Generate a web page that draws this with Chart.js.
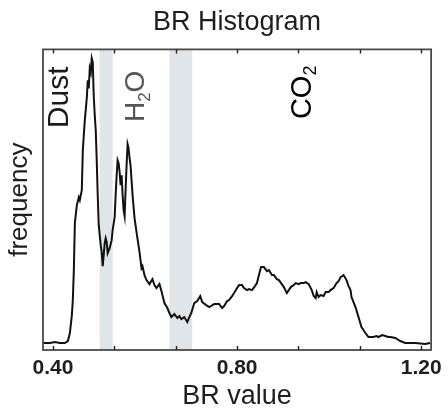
<!DOCTYPE html>
<html>
<head>
<meta charset="utf-8">
<script src="https://cdn.jsdelivr.net/npm/chart.js@4/dist/chart.umd.min.js"></script>
<style>
  html, body { margin: 0; padding: 0; background: #ffffff; }
  #wrap { width: 448px; height: 410px; }
</style>
</head>
<body>
<div id="wrap"><canvas id="c" width="448" height="410"></canvas></div>
<script>
// ---- Data ----
const brValues = [
  0.3784, 0.3935, 0.4043, 0.4151, 0.4259, 0.4324, 0.4368, 0.4411, 0.4432, 0.4454,
  0.4476, 0.4519, 0.4562, 0.4584, 0.4627, 0.4649, 0.4692, 0.4735, 0.4757, 0.4778,
  0.4800, 0.4822, 0.4843, 0.4865, 0.4886, 0.4908, 0.4930, 0.4951, 0.4973, 0.4995,
  0.5016, 0.5038, 0.5059, 0.5081, 0.5103, 0.5124, 0.5146, 0.5168, 0.5189, 0.5232,
  0.5276, 0.5297, 0.5341, 0.5362, 0.5384, 0.5405, 0.5427, 0.5449, 0.5470, 0.5492,
  0.5514, 0.5535, 0.5557, 0.5578, 0.5600, 0.5622, 0.5643, 0.5665, 0.5686, 0.5730,
  0.5773, 0.5816, 0.5881, 0.5924, 0.5946, 0.5989, 0.6032, 0.6097, 0.6162, 0.6205,
  0.6249, 0.6314, 0.6357, 0.6422, 0.6486, 0.6530, 0.6573, 0.6638, 0.6703, 0.6746,
  0.6789, 0.6854, 0.6919, 0.6962, 0.7005, 0.7070, 0.7135, 0.7200, 0.7243, 0.7330,
  0.7395, 0.7503, 0.7611, 0.7676, 0.7719, 0.7784, 0.7827, 0.7892, 0.7935, 0.8000,
  0.8043, 0.8108, 0.8151, 0.8216, 0.8259, 0.8324, 0.8389, 0.8432, 0.8476, 0.8519,
  0.8584, 0.8649, 0.8692, 0.8757, 0.8800, 0.8865, 0.8908, 0.8973, 0.9016, 0.9081,
  0.9124, 0.9168, 0.9232, 0.9276, 0.9341, 0.9384, 0.9449, 0.9492, 0.9557, 0.9622,
  0.9665, 0.9708, 0.9730, 0.9773, 0.9816, 0.9881, 0.9924, 0.9989, 1.0032, 1.0097,
  1.0162, 1.0205, 1.0249, 1.0314, 1.0378, 1.0422, 1.0465, 1.0486, 1.0530, 1.0573,
  1.0638, 1.0703, 1.0746, 1.0789, 1.0854, 1.0962, 1.1027, 1.1070, 1.1157, 1.1222,
  1.1286, 1.1330, 1.1438, 1.1546, 1.1654, 1.1870, 1.2086, 1.2195
];
const frequency = [
  7, 7, 8, 7, 7, 9, 17, 35, 50, 80,
  127, 145, 153, 150, 160, 200, 230, 252, 270, 262,
  282, 278, 292, 288, 255, 235, 220, 190, 155, 125,
  115, 105, 98, 84, 95, 107, 112, 108, 97, 102,
  110, 120, 133, 155, 175, 190, 187, 178, 165, 175,
  155, 140, 134, 160, 185, 206, 202, 192, 185, 155,
  132, 118, 98, 82, 84, 75, 70, 66, 71, 65,
  62, 66, 59, 47, 42, 37, 33, 36, 32, 34,
  31, 33, 28, 33, 37, 47, 49, 54, 48, 45,
  43, 46, 46, 42, 44, 49, 50, 54, 57, 62,
  65, 65, 62, 60, 61, 60, 64, 67, 75, 83,
  83, 79, 80, 75, 75, 71, 70, 66, 63, 57,
  60, 63, 65, 67, 66, 67, 67, 68, 66, 60,
  54, 52, 58, 53, 55, 54, 58, 58, 60, 62,
  67, 69, 73, 75, 70, 64, 60, 53, 48, 43,
  33, 23, 20, 17, 13, 13, 14, 13, 15, 14,
  13, 13, 12, 9, 7, 7, 6, 7
];
const tickValues = [0.4, 0.5333, 0.6667, 0.8, 0.9333, 1.0667, 1.2];
const labeledTicks = [0.4, 0.8, 1.2];
const bandStarts = [0.5016, 0.6530];
const bandEnds   = [0.5297, 0.7027];
const annotationText = ['Dust', 'H|2|O', 'CO|2|'];
const annotationBR   = [0.4151, 0.5816, 0.9427];
const annotationFreq = [253, 254, 258];
const annotationSize = [30, 28, 29];
const annotationColor = ['#1a1a1a', '#555555', '#000000'];

const FONT = "'Liberation Sans', Arial, sans-serif";

const decorPlugin = {
  id: 'decor',
  afterLayout(chart) {
    if (chart.titleBlock) {
      chart.titleBlock.left = chart.chartArea.left;
      chart.titleBlock.right = chart.chartArea.right;
    }
  },
  beforeDatasetsDraw(chart) {
    const { ctx, chartArea: a, scales: { x } } = chart;
    ctx.save();
    ctx.fillStyle = '#dfe5e8';
    for (let i = 0; i < bandStarts.length; i++) {
      const x0 = x.getPixelForValue(bandStarts[i]);
      const x1 = x.getPixelForValue(bandEnds[i]);
      ctx.fillRect(x0, a.top, x1 - x0, a.bottom - a.top);
    }
    ctx.restore();
  },
  afterDatasetsDraw(chart) {
    const { ctx, chartArea: a, scales: { x, y } } = chart;
    ctx.save();
    ctx.strokeStyle = '#4a4a4a';
    ctx.lineWidth = 1.8;
    ctx.strokeRect(a.left, a.top, a.right - a.left, a.bottom - a.top);
    ctx.lineWidth = 1.4;
    ctx.strokeStyle = '#222';
    tickValues.forEach(v => {
      const px = Math.round(x.getPixelForValue(v)) + 0.5;
      ctx.beginPath();
      ctx.moveTo(px, a.top); ctx.lineTo(px, a.top + 4);
      ctx.moveTo(px, a.bottom); ctx.lineTo(px, a.bottom - 4);
      ctx.stroke();
    });
    annotationText.forEach((t, i) => {
      const px = x.getPixelForValue(annotationBR[i]);
      const py = y.getPixelForValue(annotationFreq[i]);
      const parts = t.split('|');
      const big = annotationSize[i] + "px " + FONT;
      const small = Math.round(annotationSize[i] * 0.62) + "px " + FONT;
      ctx.save();
      ctx.translate(px, py);
      ctx.rotate(-Math.PI / 2);
      ctx.fillStyle = annotationColor[i];
      ctx.textBaseline = 'middle';
      ctx.textAlign = 'left';
      let total = 0;
      parts.forEach((p, k) => { ctx.font = (k % 2 === 1) ? small : big; total += ctx.measureText(p).width; });
      let cx = -total / 2;
      parts.forEach((p, k) => {
        const sub = k % 2 === 1;
        ctx.font = sub ? small : big;
        ctx.fillText(p, cx, sub ? annotationSize[i] * 0.3 : 0);
        cx += ctx.measureText(p).width;
      });
      ctx.restore();
    });
    ctx.restore();
  }
};

new Chart(document.getElementById('c'), {
  type: 'line',
  data: {
    datasets: [{
      data: brValues.map((v, i) => ({ x: v, y: frequency[i] })),
      borderColor: '#111111',
      borderWidth: 2,
      pointRadius: 0,
      tension: 0,
      fill: false
    }]
  },
  options: {
    responsive: false,
    animation: false,
    layout: { padding: { left: 0, right: 15, top: 0, bottom: 0 } },
    plugins: {
      legend: { display: false },
      tooltip: { enabled: false },
      title: {
        display: true,
        text: 'BR Histogram',
        color: '#1e1e1e',
        font: { family: FONT, size: 27, weight: 'normal' },
        padding: { top: 6, bottom: 11 }
      }
    },
    scales: {
      x: {
        type: 'linear',
        min: 0.3784,
        max: 1.2216,
        grid: { display: false, drawTicks: false },
        border: { display: false },
        afterBuildTicks(axis) { axis.ticks = tickValues.map(v => ({ value: v })); },
        afterFit(axis) { axis.height = 60; },
        ticks: {
          autoSkip: false,
          maxRotation: 0,
          padding: 6,
          color: '#1e1e1e',
          font: { family: FONT, size: 21, weight: 'bold' },
          callback(v) { return labeledTicks.some(t => Math.abs(t - v) < 1e-6) ? v.toFixed(2) : ''; }
        },
        title: {
          display: true,
          text: 'BR value',
          color: '#1e1e1e',
          font: { family: FONT, size: 27, lineHeight: 1 },
          padding: { top: 0, bottom: 0 }
        }
      },
      y: {
        min: 0,
        max: 301,
        grid: { display: false, drawTicks: false },
        border: { display: false },
        afterFit(axis) { axis.width = 43; },
        ticks: { display: false },
        title: {
          display: true,
          text: 'frequency',
          color: '#1e1e1e',
          font: { family: FONT, size: 26 },
          padding: { top: 4, bottom: 0 }
        }
      }
    }
  },
  plugins: [decorPlugin]
});
</script>
</body>
</html>
